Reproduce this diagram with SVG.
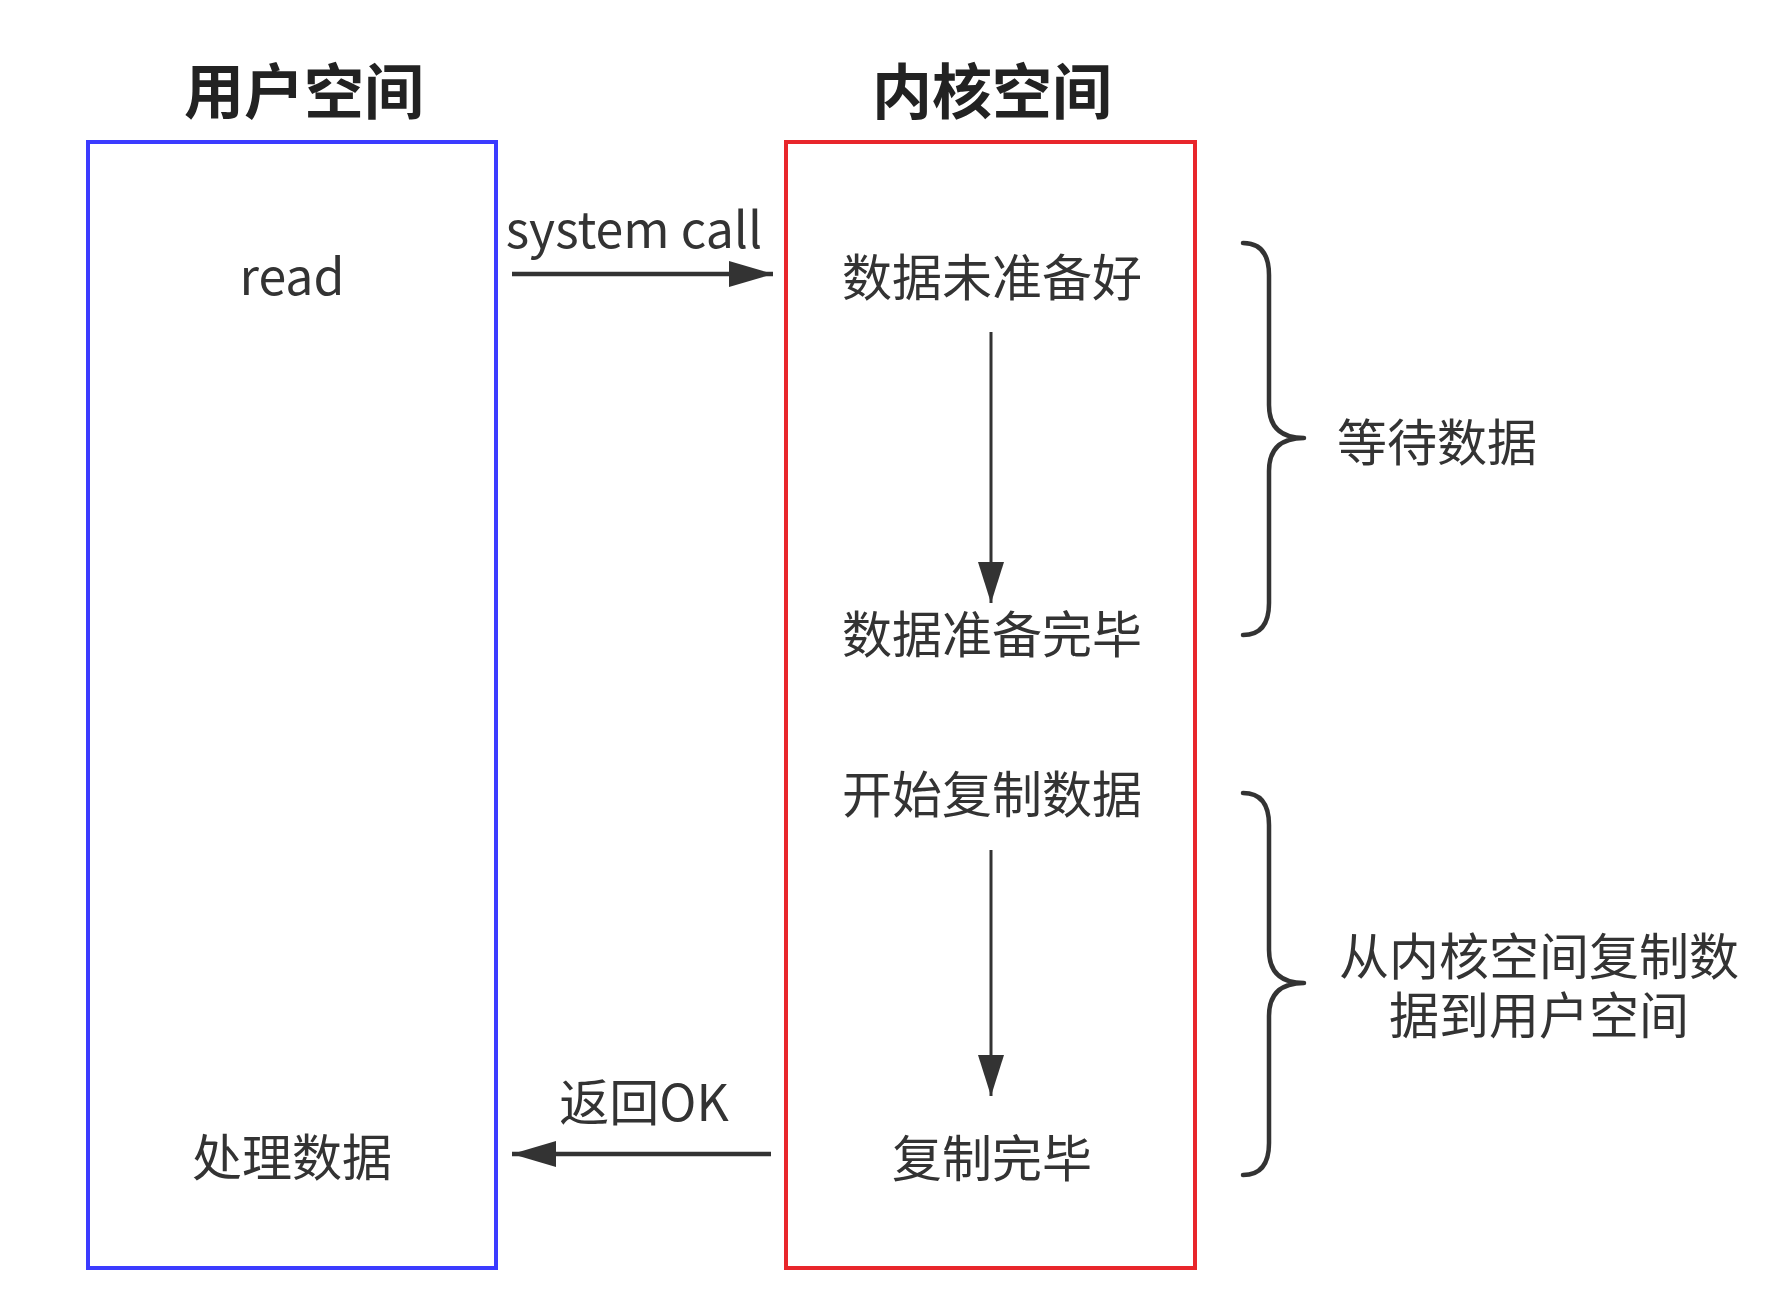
<svg xmlns="http://www.w3.org/2000/svg" width="1768" height="1304" viewBox="0 0 1768 1304">
<defs>
<style>
.t{font-family:"Noto Sans CJK SC","Liberation Sans",sans-serif;font-size:50px;fill:#333;text-anchor:middle}
.title{font-family:"Noto Sans CJK SC","Liberation Sans",sans-serif;font-size:60px;font-weight:bold;fill:#222;text-anchor:middle}
.ln{stroke:#333;fill:none}
.brace{stroke:#333;stroke-width:4.5;fill:none;stroke-linecap:round;stroke-linejoin:round}
</style>
<marker id="ah" markerUnits="userSpaceOnUse" markerWidth="46" markerHeight="28" refX="44" refY="13" orient="auto">
<path d="M0,0 L44,13 L0,26 Z" fill="#333"/>
</marker>
<marker id="av" markerUnits="userSpaceOnUse" markerWidth="46" markerHeight="28" refX="41" refY="13" orient="auto">
<path d="M0,0 L41,13 L0,26 Z" fill="#333"/>
</marker>
</defs>
<rect width="1768" height="1304" fill="#fff"/>
<g id="user-space">
<text class="title" x="304" y="114">用户空间</text>
<rect x="88" y="142" width="408" height="1126" fill="none" stroke="#3b3bff" stroke-width="4"/>
<text class="t" x="292" y="295">read</text>
<text class="t" x="292" y="1176">处理数据</text>
</g>
<g id="kernel-space">
<text class="title" x="992" y="114">内核空间</text>
<rect x="786" y="142" width="409" height="1126" fill="none" stroke="#e8262b" stroke-width="4"/>
<text class="t" x="992" y="296">数据未准备好</text>
<text class="t" x="992" y="653">数据准备完毕</text>
<text class="t" x="992" y="813">开始复制数据</text>
<text class="t" x="992" y="1177">复制完毕</text>
</g>
<g id="wait-brace">
<path class="brace" d="M1243,243 Q1269,243 1269,275 L1269,405 Q1269,438 1304,438 Q1269,438 1269,471 L1269,603 Q1269,635 1243,635"/>
<text class="t" x="1437" y="461">等待数据</text>
</g>
<g id="copy-brace">
<path class="brace" d="M1243,793 Q1269,793 1269,825 L1269,950 Q1269,983 1304,983 Q1269,983 1269,1016 L1269,1143 Q1269,1175 1243,1175"/>
<text class="t" x="1539" y="975">从内核空间复制数<tspan x="1539" dy="59">据到用户空间</tspan></text>
</g>
<g id="connectors">
<line class="ln" x1="512" y1="274" x2="773" y2="274" stroke-width="4.5" marker-end="url(#ah)"/>
<text class="t" x="634" y="248">system call</text>
<line class="ln" x1="991" y1="332" x2="991" y2="603" stroke-width="3" marker-end="url(#av)"/>
<line class="ln" x1="991" y1="850" x2="991" y2="1096" stroke-width="3" marker-end="url(#av)"/>
<line class="ln" x1="771" y1="1154" x2="512" y2="1154" stroke-width="4.5" marker-end="url(#ah)"/>
<text class="t" x="644" y="1121">返回OK</text>
</g>
</svg>
